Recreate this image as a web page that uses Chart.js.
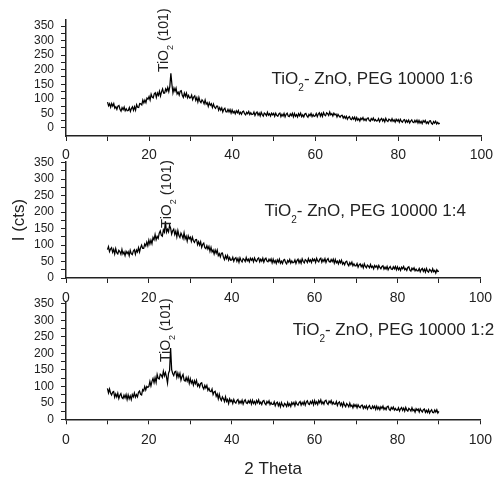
<!DOCTYPE html>
<html>
<head>
<meta charset="utf-8">
<script src="https://cdn.jsdelivr.net/npm/chart.js@4.4.1/dist/chart.umd.min.js"></script>
<style>
  html, body { margin:0; padding:0; background:#fff; }
  body { width:499px; height:482px; position:relative; overflow:hidden; }
  canvas { position:absolute; left:0; }
</style>
</head>
<body>
<canvas id="c1" width="499" height="170" style="top:0px"></canvas>
<canvas id="c2" width="499" height="175" style="top:140px"></canvas>
<canvas id="c3" width="499" height="202" style="top:280px"></canvas>
<script>
// 2-theta sampling grid of the scans (degrees)
const theta0 = 10;
const thetaStep = 0.25;

// Intensity (cts), 10.00 .. 90.00 deg (20 values = 5 deg per row)
const peg1to6 = [
  89,76,83,71,84,75,84,68,73,64,75,77,64,58,70,63,72,59,66,59,
  60,70,57,67,73,61,73,61,80,71,70,84,83,79,96,86,96,87,103,99,
  108,96,116,106,103,117,121,105,120,112,126,110,124,134,120,120,134,126,139,125,
  143,188,150,121,137,126,137,117,123,113,126,128,112,105,120,109,120,104,112,103,
  104,113,97,106,110,95,104,89,105,92,87,97,92,83,96,82,87,74,87,78,
  83,70,82,71,67,75,75,61,70,61,69,55,64,68,56,55,64,55,63,51,
  62,52,57,49,59,52,60,48,54,47,56,58,49,45,54,49,57,46,52,46,
  47,55,43,51,55,44,51,41,54,46,41,51,48,42,54,44,49,41,51,45,
  50,40,51,43,40,48,51,39,47,41,50,38,47,51,41,39,48,42,50,38,
  50,40,46,38,49,42,51,39,45,38,48,50,41,37,47,42,50,39,46,40,
  42,50,39,48,52,41,50,40,53,45,42,52,49,43,55,45,49,41,51,45,
  48,38,47,41,37,43,44,34,40,33,40,30,36,39,31,29,37,30,37,26,
  36,27,32,24,34,29,36,26,31,25,33,35,26,23,32,27,34,25,29,24,
  25,32,22,29,33,24,30,21,33,25,22,30,28,23,32,23,28,20,30,24,
  29,20,30,23,20,27,29,19,26,20,27,17,24,28,20,18,26,20,27,17,
  26,17,23,15,25,20,26,16,21,15,24,25,16,13,22,17,23,14,19,14,
  17
];
const peg1to4 = [
  86,95,80,88,92,78,87,73,89,77,73,84,80,72,87,73,79,68,81,74,
  80,68,84,74,71,82,86,72,85,79,92,79,92,100,90,90,103,97,109,98,
  115,103,115,104,123,116,132,116,126,120,136,143,130,127,146,139,172,139,148,140,
  160,151,133,143,148,132,142,125,144,129,123,136,129,120,137,119,127,112,128,119,
  124,111,124,113,108,116,117,101,110,100,110,93,102,106,92,89,98,88,96,81,
  93,79,85,73,85,75,85,68,74,64,75,76,63,56,68,59,68,54,62,54,
  55,63,51,59,62,51,59,48,61,53,49,59,56,50,62,52,57,49,60,54,
  59,49,61,53,50,58,61,49,57,51,60,48,57,60,51,49,57,51,58,46,
  57,47,53,44,55,48,57,45,51,44,54,56,47,43,53,48,56,45,52,46,
  47,55,44,53,57,46,54,45,58,50,46,56,53,47,59,50,55,47,58,52,
  57,47,60,52,49,57,60,48,56,50,59,47,55,59,50,48,56,50,57,45,
  56,46,51,43,53,46,54,42,47,40,49,51,42,37,47,41,48,37,43,37,
  37,44,33,40,43,34,40,31,43,35,31,39,36,31,41,32,36,28,38,33,
  37,28,38,32,28,35,37,27,33,27,35,25,31,35,27,26,34,28,35,25,
  34,25,31,23,33,28,35,25,29,23,32,34,24,21,30,25,31,22,27,22,
  22,29,19,26,29,20,27,18,29,21,18,26,23,18,28,19,23,15,25,20,
  21
];
const peg1to2 = [
  94,80,92,80,74,82,84,67,77,68,79,63,73,78,66,63,73,65,75,60,
  74,62,71,60,75,68,80,67,75,68,82,86,76,74,90,86,99,89,100,97,
  100,115,101,115,124,111,126,112,136,124,122,137,134,127,146,132,142,129,110,140,
  148,216,151,139,133,144,146,127,140,128,139,119,130,136,119,116,127,116,127,109,
  123,110,117,104,117,108,118,101,107,98,109,111,98,92,103,95,103,88,94,85,
  84,92,75,83,85,70,77,62,76,63,57,68,62,54,68,54,60,48,62,54,
  58,48,60,52,49,57,60,48,55,49,58,46,55,59,50,48,56,50,58,46,
  58,48,54,46,57,50,59,47,52,45,55,57,48,44,54,49,56,45,51,45,
  45,53,41,49,52,41,49,38,51,43,39,48,45,39,51,41,47,39,51,45,
  51,41,53,46,43,51,54,43,51,45,54,43,52,56,47,45,54,48,56,44,
  57,47,53,45,57,50,59,47,53,46,56,58,49,45,55,50,57,46,52,46,
  46,54,42,50,53,42,49,39,51,43,38,48,44,38,49,39,43,35,45,39,
  44,35,44,38,35,42,43,33,40,34,41,31,38,42,33,32,40,34,40,30,
  40,31,37,29,38,33,40,30,35,29,38,40,30,27,36,31,37,28,33,28,
  28,35,25,32,36,27,34,25,36,28,25,33,30,25,35,26,30,22,32,27,
  31,22,32,26,22,29,31,21,27,21,29,19,25,29,21,20,28,22,29,19,
  24
];

// Axis ticks and labels
const xMajor = [0, 20, 40, 60, 80, 100];
const xMinor = [10, 30, 50, 70, 90];
const yMajor = [0, 50, 100, 150, 200, 250, 300, 350];
const yMinor = [25, 75, 125, 175, 225, 275, 325];

// Texts
const sampleLabels = [
  [['TiO', 0], ['2', 1], ['- ZnO, PEG 10000 1:6', 0]],
  [['TiO', 0], ['2', 1], ['- ZnO, PEG 10000 1:4', 0]],
  [['TiO', 0], ['2', 1], ['- ZnO, PEG 10000 1:2', 0]]
];
const peakLabel = [['TiO', 0], ['2', 1], [' (101)', 0]];
const xTitle = '2 Theta';
const yTitle = 'I (cts)';

const FONT = '"Liberation Sans", Arial, sans-serif';
const INK = '#222';

function drawParts(ctx, parts, x0, y0, size, subSize, subDrop) {
  let cx = x0;
  for (const [t, sub] of parts) {
    ctx.font = (sub ? subSize : size) + 'px ' + FONT;
    ctx.fillText(t, cx, y0 + (sub ? subDrop : 0));
    cx += ctx.measureText(t).width;
  }
}

function makePanel(id, values, o) {
  const pts = values.map((v, i) => ({ x: theta0 + i * thetaStep, y: v }));
  const xTicks = xMajor.concat(xMinor).sort((a, b) => a - b);
  const yTicks = yMajor.concat(yMinor).sort((a, b) => a - b);
  const annot = {
    id: 'xrdLabels' + id,
    afterDatasetsDraw(chart) {
      const { ctx } = chart;
      const xs = chart.scales.x, ys = chart.scales.y;
      ctx.save();
      ctx.fillStyle = INK;
      ctx.textAlign = 'left';
      ctx.textBaseline = 'alphabetic';
      drawParts(ctx, o.sample, xs.getPixelForValue(o.sampleAt[0]), ys.getPixelForValue(o.sampleAt[1]), 17, 10, 7);
      ctx.translate(xs.getPixelForValue(o.peakAt[0]), ys.getPixelForValue(o.peakAt[1]));
      ctx.rotate(-Math.PI / 2);
      drawParts(ctx, peakLabel, 0, 0, o.peakSize || 14, 9, 5);
      ctx.restore();
    }
  };
  return new Chart(document.getElementById(id), {
    type: 'line',
    data: { datasets: [{ data: pts, borderColor: '#000', borderWidth: 1.25, pointRadius: 0, tension: 0, fill: false }] },
    options: {
      responsive: false,
      animation: false,
      events: [],
      layout: { padding: { top: o.padTop, right: 11, left: 0, bottom: 0 } },
      plugins: { legend: { display: false }, tooltip: { enabled: false } },
      scales: {
        x: {
          type: 'linear', min: 0, max: 100,
          afterBuildTicks: s => { s.ticks = xTicks.map(v => ({ value: v })); },
          afterFit: s => { s.height = o.xH; },
          ticks: { autoSkip: false, maxRotation: 0, padding: o.xPad, color: INK,
                   font: { family: FONT, size: 14 },
                   callback: v => xMajor.includes(v) ? String(v) : '' },
          grid: { drawOnChartArea: false, drawTicks: true, tickLength: 5, color: INK, lineWidth: 1 },
          border: { display: true, color: INK, width: 1.5 },
          title: o.xTitle ? { display: true, text: o.xTitle, color: INK, padding: { top: 0, bottom: 2 },
                              font: { family: FONT, size: 17 } } : { display: false }
        },
        y: {
          type: 'linear', min: o.yMin, max: o.yMax,
          afterBuildTicks: s => { s.ticks = yTicks.map(v => ({ value: v })); },
          afterFit: s => { s.width = 66; },
          ticks: { autoSkip: false, padding: 7, color: INK,
                   font: { family: FONT, size: 12 },
                   callback: v => yMajor.includes(v) ? String(v) : '' },
          grid: { drawOnChartArea: false, drawTicks: true, tickLength: 5, color: INK, lineWidth: 1 },
          border: { display: true, color: INK, width: 1.5 },
          title: o.yTitle ? { display: true, text: o.yTitle, color: INK, padding: { top: 9, bottom: 0 },
                              font: { family: FONT, size: 17 } } : { display: false }
        }
      }
    },
    plugins: [annot]
  });
}

makePanel('c1', peg1to6, { padTop: 20, xH: 34, xPad: 6, yMin: -27.5, yMax: 370.6,
  sample: sampleLabels[0], sampleAt: [49.5, 151], peakAt: [24.5, 192] });
makePanel('c2', peg1to4, { padTop: 22, xH: 37, xPad: 7, yMin: 0, yMax: 352, yTitle: yTitle,
  sample: sampleLabels[1], sampleAt: [47.9, 189], peakAt: [25.4, 152], peakSize: 15 });
makePanel('c3', peg1to2, { padTop: 22, xH: 62.7, xPad: 7, yMin: 0, yMax: 356, xTitle: xTitle,
  sample: sampleLabels[2], sampleAt: [54.7, 256], peakAt: [25.0, 174] });
</script>
</body>
</html>
